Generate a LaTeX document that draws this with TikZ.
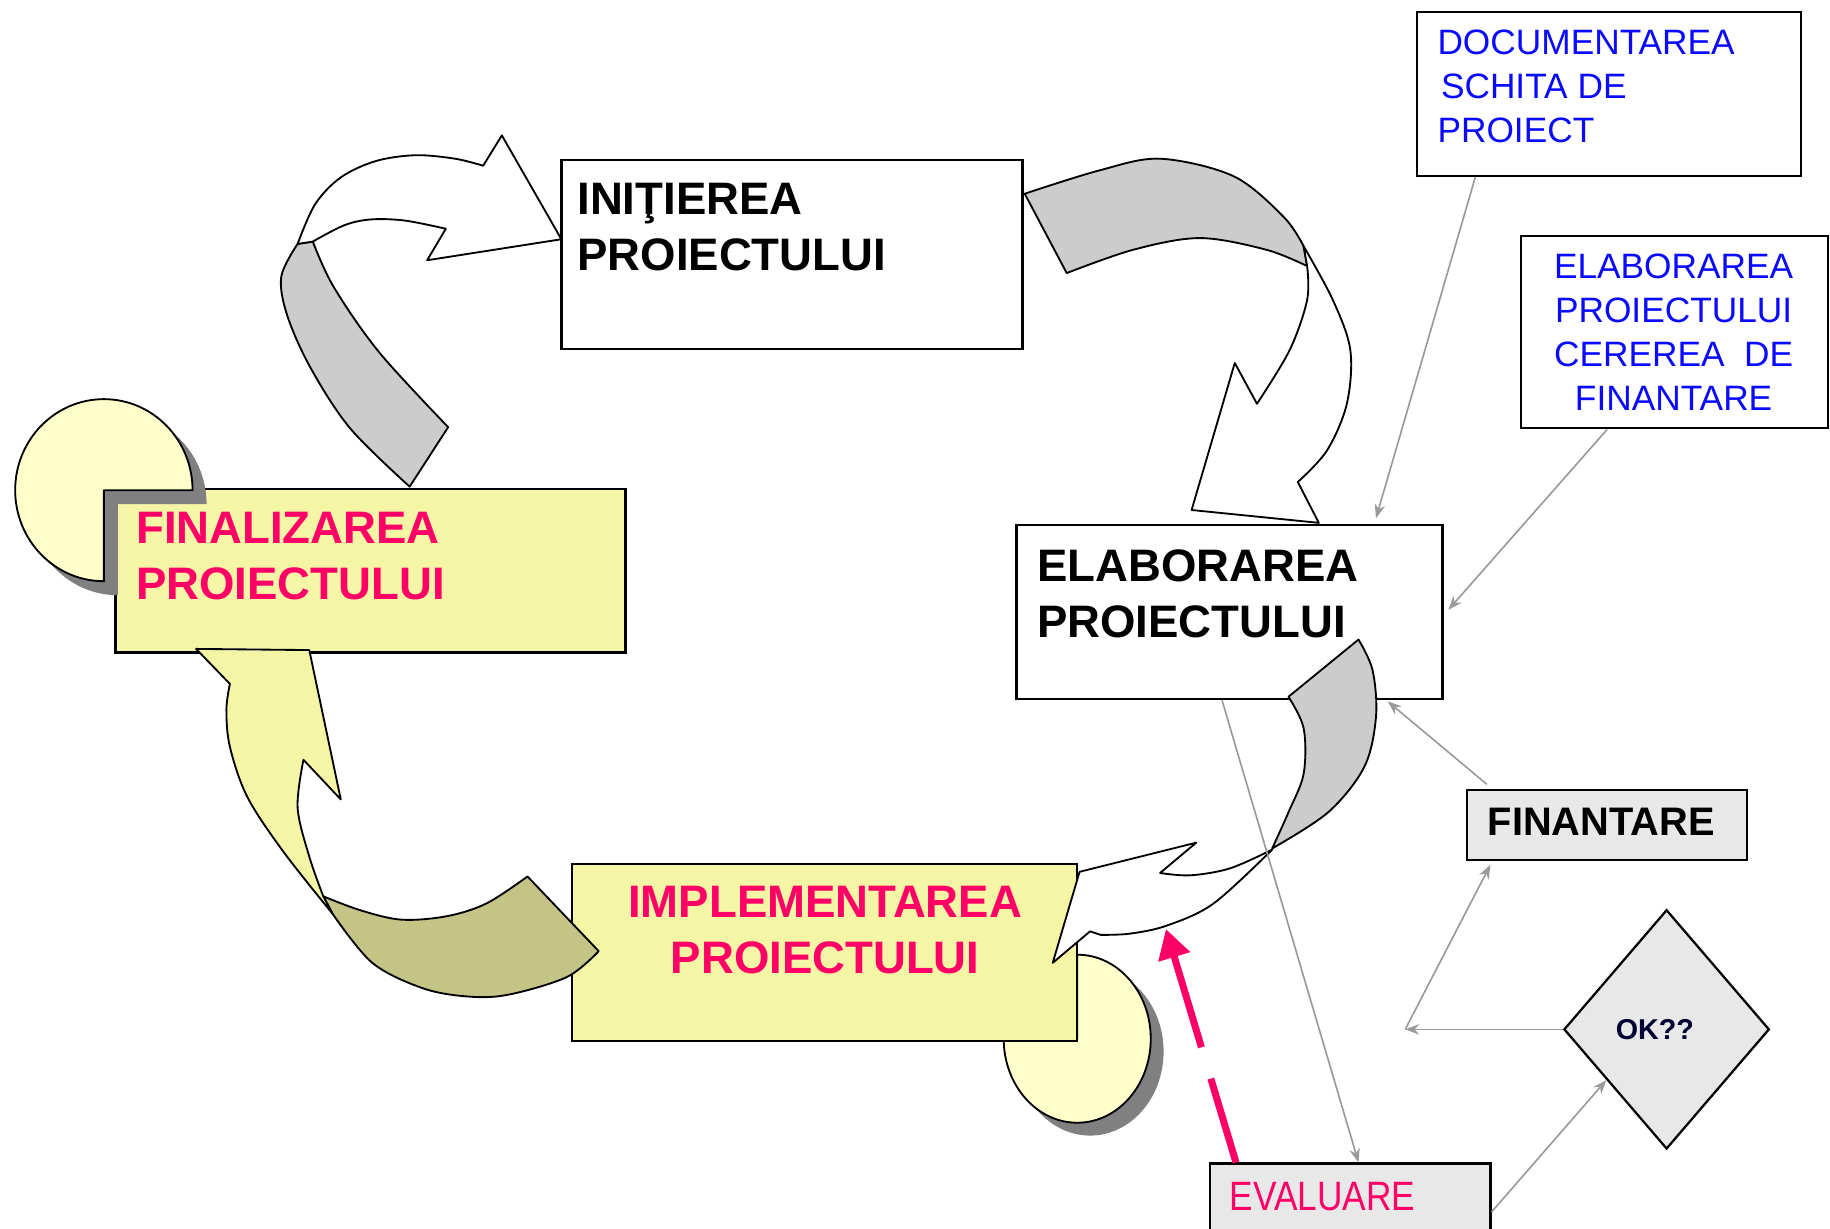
\documentclass[tikz,border=0pt]{standalone}
\usepackage{fontspec}
\setmainfont{Liberation Sans}
\usetikzlibrary{calc,shapes.geometric,arrows.meta}

\definecolor{boxyellow}{HTML}{F5F5A6}
\definecolor{pieyellow}{HTML}{FFFFCC}
\definecolor{bandolive}{HTML}{C4C486}
\definecolor{bandgrey}{HTML}{CCCCCC}
\definecolor{shadowgrey}{HTML}{808080}
\definecolor{panelgrey}{HTML}{E8E8E8}
\definecolor{linkgrey}{HTML}{9A9A9A}
\definecolor{hotpink}{HTML}{FF0066}
\definecolor{docblue}{HTML}{0A0AFF}
\definecolor{oknavy}{HTML}{000033}

\newcommand\setfs[2]{\fontsize{#1}{#2}\selectfont}

\begin{document}
\begin{tikzpicture}[x=0.1mm, y=-0.1mm,
  box/.style={draw=black, line width=0.55pt, inner sep=0pt},
  band/.style={draw=black, line width=0.45pt, line join=round},
  title/.style={font=\bfseries\setfs{11.1}{13.66}, inner sep=0pt, align=left},
  bluetext/.style={font=\setfs{8.6}{10.7}, text=docblue, inner sep=0pt},
  link/.style={draw=linkgrey, line width=0.4pt, -{Stealth[length=1.2mm, width=0.9mm]}},
  smoothed/.style={smooth, tension=0.55}]

\clip (0,0) rectangle (1568,1053);
\fill[white] (0,0) rectangle (1568,1053);

% ---------- FINALIZAREA: box, notched disc with its shadow ----------
\node[box, fill=boxyellow, minimum width=43.7mm, minimum height=14mm] (fin) at (317.5,489) {};
\begin{scope}[shift={(12,12)}]
  \fill[shadowgrey] (89,420) -- (89,498) arc[start angle=90, end angle=360, x radius=76, y radius=78] -- cycle;
\end{scope}
\filldraw[band, fill=pieyellow] (89,420) -- (89,498) arc[start angle=90, end angle=360, x radius=76, y radius=78] -- cycle;

% ---------- IMPLEMENTAREA: notched disc with shadow, then the box ----------
\begin{scope}[shift={(11,11)}]
  \fill[shadowgrey] (923,890) -- (923,818) arc[start angle=-90, end angle=180, x radius=63, y radius=72] -- cycle;
\end{scope}
\filldraw[band, fill=pieyellow] (923,890) -- (923,818) arc[start angle=-90, end angle=180, x radius=63, y radius=72] -- cycle;
\node[box, fill=boxyellow, minimum width=43.3mm, minimum height=15.2mm] (impl) at (706.5,816) {};

% ---------- white boxes ----------
\node[box, fill=white, minimum width=39.5mm, minimum height=16.2mm] (init) at (678.5,218) {};
\node[box, fill=white, minimum width=36.5mm, minimum height=14.9mm] (elabb) at (1053.5,524.5) {};
\node[box, fill=white, minimum width=32.9mm, minimum height=14.1mm] (doc) at (1378.5,80.5) {};
\node[box, fill=white, minimum width=26.3mm, minimum height=16.5mm] (elabblue) at (1434.5,284.5) {};

% ---------- grey boxes and decision ----------
\node[box, fill=panelgrey, minimum width=24mm, minimum height=6mm] (finant) at (1377,707) {};
\node[box, fill=panelgrey, minimum width=24mm, minimum height=8.3mm] (eval) at (1157,1038.5) {};
\node[box, diamond, fill=panelgrey, minimum width=17.6mm, minimum height=20.5mm] (ok) at (1428,882) {};

% ---------- curved ribbon arrow: FINALIZAREA -> INITIEREA ----------
\filldraw[band, fill=bandgrey]
  plot[smoothed] coordinates {(351,417) (300,367) (266,315) (246,270) (241,237) (255,209)}
  -- (268,207)
  -- plot[smoothed] coordinates {(268,207) (286,246) (325,302) (384,366)}
  -- cycle;
\filldraw[band, fill=white]
  plot[smoothed] coordinates {(255,209) (270,175) (292,152) (322,138) (356,133) (390,136) (414,142)}
  -- (430,116) -- (481,205) -- (366,223) -- (382,196)
  -- plot[smoothed] coordinates {(382,196) (347,189) (318,188) (295,193) (268,207)}
  -- cycle;

% ---------- curved ribbon arrow: INITIEREA -> ELABORAREA ----------
\filldraw[band, fill=bandgrey]
  plot[smoothed] coordinates {(878,166) (942,146) (994,136) (1057,151) (1100,186) (1117,211)}
  -- (1120,228)
  -- plot[smoothed] coordinates {(1120,228) (1085,214) (1028,204) (971,214) (914,234)}
  -- cycle;
\filldraw[band, fill=white]
  plot[smoothed] coordinates {(1117,211) (1142,257) (1157,300) (1154,346) (1137,386) (1112,413)}
  -- (1130,448) -- (1021,437) -- (1058,311) -- (1077,346)
  -- plot[smoothed] coordinates {(1077,346) (1105,300) (1120,257) (1120,228)}
  -- cycle;

% ---------- curved ribbon arrow: ELABORAREA -> IMPLEMENTAREA ----------
\filldraw[band, fill=bandgrey]
  (1104,597)
  -- plot[smoothed] coordinates {(1164,548) (1176,574) (1179,614) (1169,657) (1138,696) (1090,727)}
  -- plot[smoothed] coordinates {(1090,727) (1104,696) (1117,663) (1117,624) (1104,597)}
  -- cycle;
\filldraw[band, fill=white]
  plot[smoothed] coordinates {(1090,728) (1040,774) (1000,793) (968,800) (943,801)}
  -- (934,798) -- (902,825) -- (925,747) -- (1025,722) -- (994,748)
  -- plot[smoothed] coordinates {(994,748) (1020,750) (1054,744) (1090,728)}
  -- cycle;

% ---------- curved ribbon arrow: IMPLEMENTAREA -> FINALIZAREA ----------
\filldraw[band, fill=bandolive]
  (452,751) -- (513,815)
  -- plot[smoothed] coordinates {(513,815) (486,837) (437,852) (403,854) (363,847) (319,825) (285,783)}
  -- (277,768)
  -- plot[smoothed] coordinates {(277,768) (309,780) (344,788) (383,785) (417,774) (452,751)}
  -- cycle;
\filldraw[band, fill=boxyellow]
  plot[smoothed] coordinates {(285,783) (243,730) (212,683) (197,640) (194,608) (197,586)}
  -- (168,556) -- (265,557) -- (292,685) -- (260,651)
  -- plot[smoothed] coordinates {(260,651) (255,692) (265,734) (277,768)}
  -- cycle;

% ---------- thin grey connectors ----------
\coordinate (fork) at ($(ok.west)+(-135,0)$);
\draw[link] ($(doc.south west)+(51,0)$) -- ($(elabb.north east)+(-58,-5)$);
\draw[link] ($(elabblue.south west)+(75,0)$) -- ($(elabb.east)+(4,-2)$);
\draw[link] ($(finant.north west)+(18,-4)$) -- ($(elabb.south east)+(-48,1)$);
\draw[link] ($(elabb.south west)+(177,0)$) -- ($(eval.north west)+(128,0)$);
\draw[link] (eval.east) -- ($(ok.west)!0.42!(ok.south)$);
\draw[link] (ok.west) -- (fork);
\draw[link] (fork) -- ($(finant.south west)+(21,3)$);

% ---------- evaluation feedback ----------
\coordinate (evaltip) at (999,796);
\draw[hotpink, line width=0.6mm, dash pattern=on 7.5mm off 2.8mm on 20mm off 1mm,
      -{Triangle[length=2.5mm, width=2.7mm]}] ($(eval.north west)+(23,0)$) -- (evaltip);

% ---------- texts ----------
\node[title, anchor=north west] (initT) at (494,156) {INIŢIEREA\\PROIECTULUI};
\node[title, anchor=north west] (elabbT) at (888,470) {ELABORAREA\\PROIECTULUI};
\node[title, anchor=north west, text=hotpink] (finT) at (116,438) {FINALIZAREA\\PROIECTULUI};
\node[title, anchor=north, align=center, text=hotpink] (implT) at (707,759) {IMPLEMENTAREA\\PROIECTULUI};
\node[bluetext, anchor=north west, align=left] (docT) at (1231,25) {DOCUMENTAREA\\\hspace{0.3mm}SCHITA DE\\PROIECT};
\node[bluetext, anchor=north, align=center] (elabblueT) at (1434,217) {ELABORAREA\\PROIECTULUI\\CEREREA\ \ DE\\FINANTARE};
\node[font=\bfseries\setfs{9.7}{11}, anchor=north west, inner sep=0pt] (finantT) at (1274,692) {FINANTARE};
\node[font=\setfs{10}{12}, text=hotpink, anchor=north west, inner sep=0pt] (evalT) at (1053,1012) {\scalebox{0.86}[1]{EVALUARE}};
\node[font=\bfseries\setfs{7}{8}, text=oknavy, inner sep=0pt] (okT) at (1418,882) {OK??};

\end{tikzpicture}
\end{document}
